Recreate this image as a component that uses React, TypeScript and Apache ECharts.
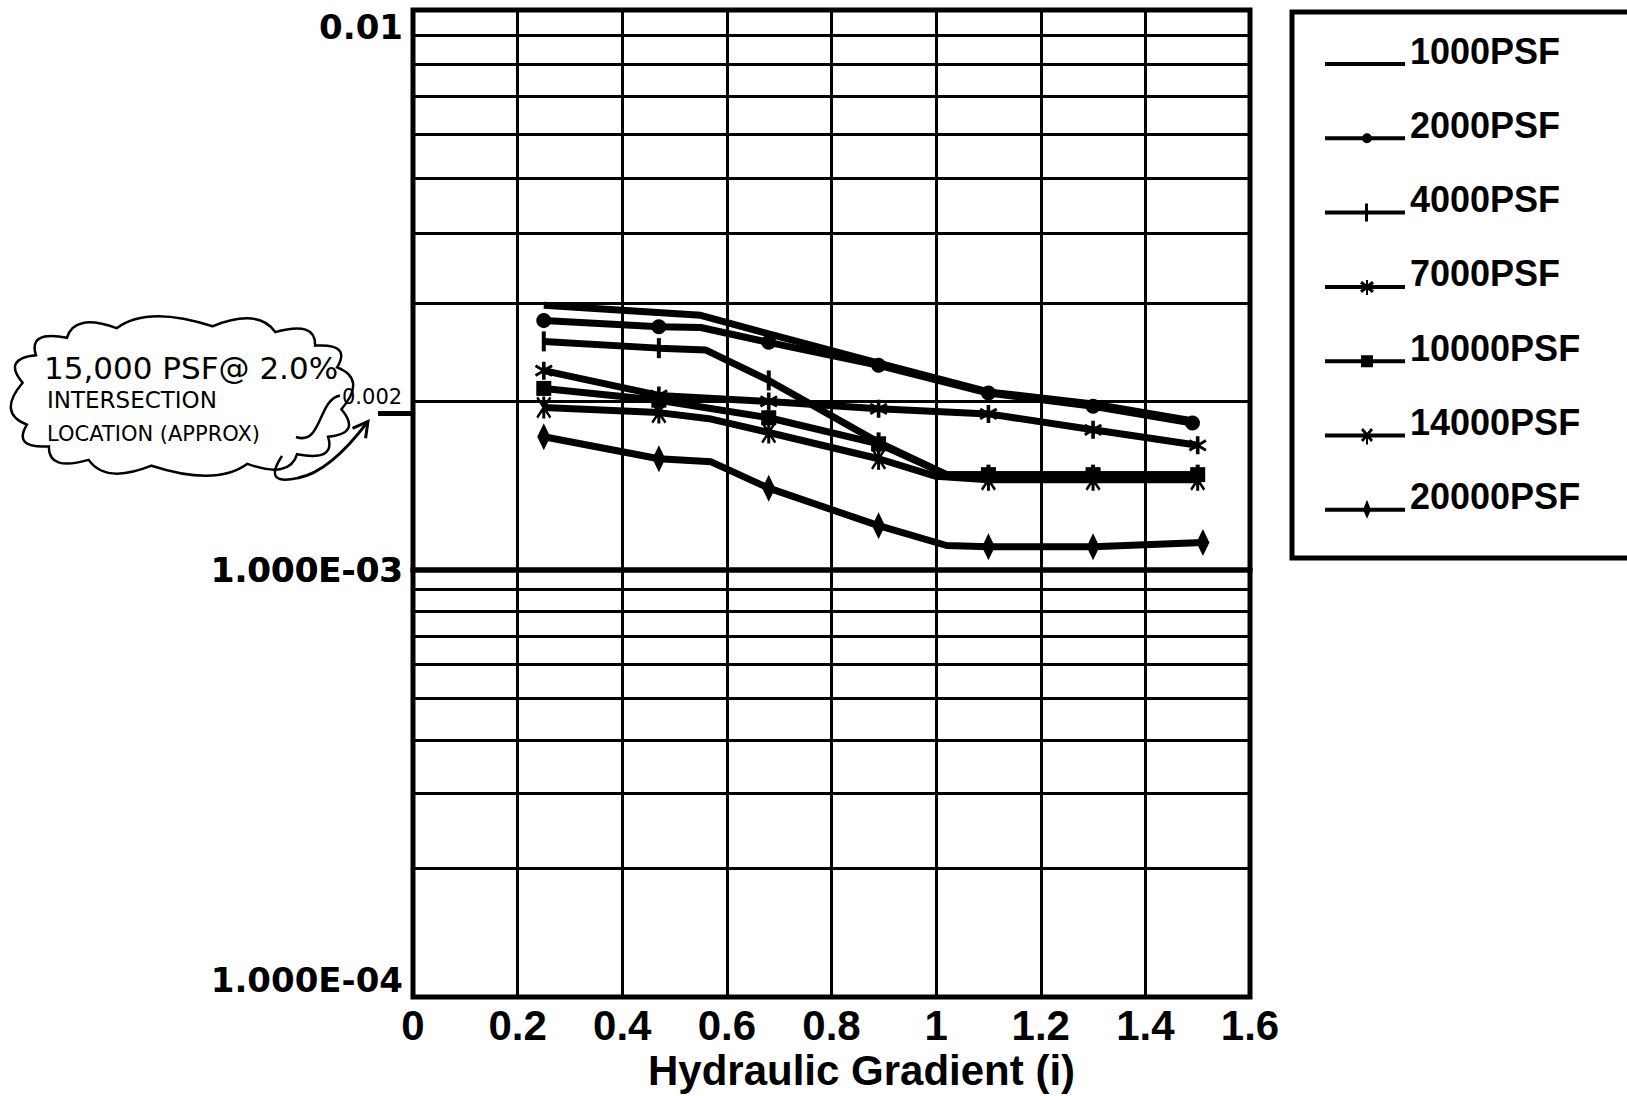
import React, { useEffect, useRef } from 'react';
import * as echarts from 'echarts';

// ---------------- DATA ----------------
const SERIES_NAMES = ['1000PSF', '2000PSF', '4000PSF', '7000PSF', '10000PSF', '14000PSF', '20000PSF'];

// [hydraulic gradient, permeability]
const PSF_1000: [number, number][] = [
  [0.25, 2.97e-3], [0.55, 2.85e-3], [0.68, 2.64e-3], [0.89, 2.34e-3], [1.1, 2.08e-3], [1.3, 1.98e-3], [1.5, 1.84e-3],
];
const PSF_2000: [number, number][] = [
  [0.25, 2.79e-3], [0.47, 2.72e-3], [0.55, 2.71e-3], [0.68, 2.55e-3], [0.89, 2.32e-3], [1.1, 2.07e-3], [1.3, 1.96e-3], [1.49, 1.83e-3],
];
const PSF_4000: [number, number][] = [
  [0.25, 2.56e-3], [0.47, 2.49e-3], [0.56, 2.47e-3], [0.68, 2.18e-3], [0.89, 1.69e-3], [1.02, 1.48e-3], [1.1, 1.48e-3], [1.3, 1.48e-3], [1.5, 1.48e-3],
];
const PSF_7000: [number, number][] = [
  [0.25, 2.27e-3], [0.47, 2.05e-3], [0.68, 2.0e-3], [0.89, 1.94e-3], [1.1, 1.9e-3], [1.3, 1.78e-3], [1.5, 1.67e-3],
];
const PSF_10000: [number, number][] = [
  [0.25, 2.11e-3], [0.47, 2.01e-3], [0.68, 1.87e-3], [0.89, 1.68e-3], [1.02, 1.48e-3], [1.1, 1.48e-3], [1.3, 1.48e-3], [1.5, 1.48e-3],
];
const PSF_14000: [number, number][] = [
  [0.25, 1.95e-3], [0.47, 1.91e-3], [0.57, 1.86e-3], [0.68, 1.76e-3], [0.89, 1.58e-3], [1.0, 1.47e-3], [1.1, 1.45e-3], [1.3, 1.45e-3], [1.5, 1.45e-3],
];
const PSF_20000: [number, number][] = [
  [0.25, 1.73e-3], [0.47, 1.58e-3], [0.57, 1.56e-3], [0.68, 1.4e-3], [0.89, 1.2e-3], [1.02, 1.106e-3], [1.1, 1.1e-3], [1.3, 1.1e-3], [1.51, 1.12e-3],
];
// vertices drawn without a marker (bends of the original curves)
const UNMARKED_X = [0.55, 0.56, 0.57, 1.0, 1.02];

const Y_MINOR_UPPER = [0.002, 0.003, 0.004, 0.005, 0.006, 0.007, 0.008, 0.009];
const Y_MINOR_LOWER = [0.0002, 0.0003, 0.0004, 0.0005, 0.0006, 0.0007, 0.0008, 0.0009];

const X_TITLE = 'Hydraulic Gradient (i)';
const NOTE_LINES = ['15,000 PSF@ 2.0%', 'INTERSECTION', 'LOCATION (APPROX)'];
const NOTE_VALUE = '0.002';

// ---------------- LAYOUT / STYLE ----------------
const W = 1627;
const H = 1096;
const G_LEFT = 413;
const G_WIDTH = 837;
const UP_TOP = 10;
const UP_H = 560;
const LO_TOP = UP_TOP + UP_H;
const LO_H = 427;

const STAR7 = 'path://M40,0L60,0L60,100L40,100Z M0,30L8,16L100,70L92,84Z M92,16L100,30L8,84L0,70Z';
const STAR14 = 'path://M40,0L60,0L60,100L40,100Z M0,8L12,0L100,92L88,100Z M88,0L100,8L12,100L0,92Z';

const MARKERS: { symbol: string; size: number | number[] }[] = [
  { symbol: 'none', size: 0 },
  { symbol: 'circle', size: 15 },
  { symbol: 'rect', size: [4, 20] },
  { symbol: STAR7, size: [18, 18] },
  { symbol: 'rect', size: 15 },
  { symbol: STAR14, size: [15, 22] },
  { symbol: 'diamond', size: [13, 27] },
];

// legend icons: 80 x 44 box, line centred at y = 35 (just under the text centre)
const BOX = 'M0,0 M80,44 ';
const LINE = 'M0,33 L80,33 L80,37 L0,37 Z ';
const LEGEND_ICONS = [
  'path://' + BOX + LINE,
  'path://' + BOX + LINE + 'M37,35 A5,5 0 1,1 47,35 A5,5 0 1,1 37,35 Z',
  'path://' + BOX + LINE + 'M40,26 L43,26 L43,44 L40,44 Z',
  'path://' + BOX + LINE + 'M41,28 L43,28 L43,43 L41,43 Z M35,31.5 L37,29 L49,38.5 L47,41 Z M47,29 L49,31.5 L37,41 L35,38.5 Z',
  'path://' + BOX + LINE + 'M36,29 L48,29 L48,41 L36,41 Z',
  'path://' + BOX + LINE + 'M36,29.5 L38,27.5 L48,39.5 L46,41.5 Z M46,27.5 L48,29.5 L38,41.5 L36,39.5 Z M41,33 L43,33 L43,44 L41,44 Z',
  'path://' + BOX + LINE + 'M42,25 L46,35 L42,44 L38,35 Z',
];

function cloudPath(cx: number, cy: number, rx: number, ry: number, n: number) {
  const pt = (a: number, k: number, kx: number) => {
    const c = Math.cos(a);
    const s = Math.sin(a);
    const ex = 0.72;
    return [
      cx + rx * kx * Math.sign(c) * Math.pow(Math.abs(c), ex),
      cy + ry * k * Math.sign(s) * Math.pow(Math.abs(s), ex),
    ];
  };
  let d = '';
  for (let i = 0; i <= n; i++) {
    const a = (i / n) * Math.PI * 2 + 0.1;
    const [px, py] = pt(a, 1, 1);
    if (i === 0) d += `M${px.toFixed(1)},${py.toFixed(1)}`;
    else {
      const m = ((i - 0.5) / n) * Math.PI * 2 + 0.1;
      const [qx, qy] = pt(m, 1.3, 1.16);
      d += ` Q${qx.toFixed(1)},${qy.toFixed(1)} ${px.toFixed(1)},${py.toFixed(1)}`;
    }
  }
  return d + ' Z';
}

let registered = false;
function registerShapes() {
  if (registered) return;
  registered = true;
  echarts.graphic.registerShape('cloud', echarts.graphic.extendPath(cloudPath(182, 396, 160, 70, 16), {}) as any);
}

function fmtY(v: number) {
  if (v >= 0.005) return '0.01';
  const [m, e] = v.toExponential(3).split('e');
  const ex = parseInt(e, 10);
  return `${m}E${ex < 0 ? '-' : '+'}${String(Math.abs(ex)).padStart(2, '0')}`;
}

const AXIS_FONT = '"Liberation Sans", Arial, sans-serif';
const Y_FONT = '"DejaVu Sans", sans-serif';
const HAND_FONT = '"DejaVu Sans", sans-serif';

function buildOption() {
  const all = [PSF_1000, PSF_2000, PSF_4000, PSF_7000, PSF_10000, PSF_14000, PSF_20000];
  const series: any[] = all.map((arr, i) => ({
    name: SERIES_NAMES[i],
    type: 'line',
    xAxisIndex: 0,
    yAxisIndex: 0,
    symbol: MARKERS[i].symbol,
    symbolSize: MARKERS[i].size,
    showSymbol: MARKERS[i].symbol !== 'none',
    lineStyle: { color: '#000', width: 7 },
    itemStyle: { color: '#000' },
    data: arr.map(([x, y]) =>
      UNMARKED_X.includes(x) ? { value: [x, y], symbol: 'none' } : { value: [x, y] }
    ),
    z: 5,
  }));
  const mlBase = {
    silent: true,
    precision: 10,
    symbol: ['none', 'none'],
    label: { show: false },
    lineStyle: { color: '#000', width: 3, type: 'solid' },
    emphasis: { disabled: true },
    z: 3,
  };
  series[0].markLine = { ...mlBase, data: Y_MINOR_UPPER.map((v) => ({ yAxis: v })) };
  series.push({
    name: 'lowerGrid',
    type: 'line',
    xAxisIndex: 1,
    yAxisIndex: 1,
    data: [],
    markLine: { ...mlBase, data: Y_MINOR_LOWER.map((v) => ({ yAxis: v })) },
  });

  const xBase = {
    type: 'value',
    min: 0,
    max: 1.6,
    interval: 0.2,
    axisLine: { show: false },
    axisTick: { show: false },
    splitLine: { show: true, lineStyle: { color: '#000', width: 3 } },
  };

  return {
    animation: false,
    backgroundColor: '#fff',
    grid: [
      { left: G_LEFT, top: UP_TOP, width: G_WIDTH, height: UP_H, show: true, borderColor: '#000', borderWidth: 5, outerBoundsMode: 'none', containLabel: false },
      { left: G_LEFT, top: LO_TOP, width: G_WIDTH, height: LO_H, show: true, borderColor: '#000', borderWidth: 5, outerBoundsMode: 'none', containLabel: false },
    ],
    xAxis: [
      { ...xBase, gridIndex: 0, axisLabel: { show: false } },
      {
        ...xBase,
        gridIndex: 1,
        axisLabel: {
          show: true,
          color: '#000',
          fontFamily: AXIS_FONT,
          fontWeight: 'bold',
          fontSize: 42,
          margin: 7,
          formatter: (v: number) => String(Math.round(v * 10) / 10),
        },
        name: X_TITLE,
        nameLocation: 'middle',
        nameGap: 52,
        nameTextStyle: {
          color: '#000',
          fontFamily: AXIS_FONT,
          fontWeight: 'bold',
          fontSize: 42,
          padding: [0, 0, 0, 60],
        },
      },
    ],
    yAxis: [
      {
        type: 'log',
        logBase: 10,
        gridIndex: 0,
        min: 0.001,
        max: 0.01,
        axisLine: { show: false },
        axisTick: { show: false },
        splitLine: { show: false },
        axisLabel: {
          color: '#000',
          fontFamily: Y_FONT,
          fontWeight: 'bold',
          fontSize: 34,
          margin: 10,
          showMinLabel: true,
          showMaxLabel: true,
          verticalAlignMaxLabel: 'top',
          formatter: fmtY,
        },
      },
      {
        type: 'log',
        logBase: 10,
        gridIndex: 1,
        min: 0.0001,
        max: 0.001,
        axisLine: { show: false },
        axisTick: { show: false },
        splitLine: { show: false },
        axisLabel: {
          color: '#000',
          fontFamily: Y_FONT,
          fontWeight: 'bold',
          fontSize: 34,
          margin: 10,
          showMinLabel: true,
          showMaxLabel: false,
          verticalAlignMinLabel: 'bottom',
          formatter: fmtY,
        },
      },
    ],
    legend: {
      data: SERIES_NAMES.map((name, i) => ({ name, icon: LEGEND_ICONS[i] })),
      orient: 'vertical',
      left: 1320,
      top: 23,
      itemWidth: 80,
      itemHeight: 44,
      itemGap: 28.3,
      selectedMode: false,
      textStyle: {
        color: '#000',
        fontFamily: AXIS_FONT,
        fontWeight: 'bold',
        fontSize: 36,
        lineHeight: 46,
      },
    },
    series,
  };
}

function buildGraphic(y2: number) {
  const tipX = 368;
  const tipY = y2 + 20;
  const fromX = 330;
  const fromY = 472;
  const ang = Math.atan2(tipY - fromY, tipX - fromX);
  const L = 17;
  const a1 = ang + Math.PI - 0.5;
  const a2 = ang + Math.PI + 0.5;
  return [
    {
      type: 'rect',
      shape: { x: 1292, y: 12, width: 420, height: 546 },
      style: { fill: 'none', stroke: '#000', lineWidth: 5 },
      z: 20,
    },
    { type: 'cloud', x: 0, y: 0, style: { fill: 'none', stroke: '#000', lineWidth: 2.5 }, z: 20 },
    {
      type: 'text', x: 44, y: 368, z: 21,
      style: { text: NOTE_LINES[0], font: `31px ${HAND_FONT}`, fill: '#000', align: 'left', verticalAlign: 'middle' },
    },
    {
      type: 'text', x: 47, y: 400, z: 21,
      style: { text: NOTE_LINES[1], font: `23px ${HAND_FONT}`, fill: '#000', align: 'left', verticalAlign: 'middle' },
    },
    {
      type: 'text', x: 47, y: 434, z: 21,
      style: { text: NOTE_LINES[2], font: `21px ${HAND_FONT}`, fill: '#000', align: 'left', verticalAlign: 'middle' },
    },
    {
      type: 'text', x: 342, y: y2 - 4, z: 21,
      style: { text: NOTE_VALUE, font: `21px ${HAND_FONT}`, fill: '#000', align: 'left', verticalAlign: 'middle' },
    },
    {
      type: 'bezierCurve', z: 21,
      shape: { x1: 296, y1: 437, cpx1: 322, cpy1: 446, cpx2: 318, cpy2: y2 - 2, x2: 340, y2: y2 - 6 },
      style: { fill: 'none', stroke: '#000', lineWidth: 2.5 },
    },
    {
      type: 'line', z: 21,
      shape: { x1: 378, y1: y2 + 12, x2: 414, y2: y2 + 12 },
      style: { stroke: '#000', lineWidth: 5 },
    },
    {
      type: 'bezierCurve', z: 21,
      shape: { x1: 282, y1: 456, cpx1: 262, cpy1: 486, x2: 298, y2: 478 },
      style: { fill: 'none', stroke: '#000', lineWidth: 2.5 },
    },
    {
      type: 'bezierCurve', z: 21,
      shape: { x1: 298, y1: 478, cpx1: fromX, cpy1: fromY, x2: tipX, y2: tipY },
      style: { fill: 'none', stroke: '#000', lineWidth: 3 },
    },
    {
      type: 'polyline', z: 21,
      shape: {
        points: [
          [tipX + L * Math.cos(a1), tipY + L * Math.sin(a1)],
          [tipX, tipY],
          [tipX + L * Math.cos(a2), tipY + L * Math.sin(a2)],
        ],
      },
      style: { fill: 'none', stroke: '#000', lineWidth: 3 },
    },
  ];
}

export default function App() {
  const ref = useRef<HTMLDivElement>(null);
  useEffect(() => {
    if (!ref.current) return;
    registerShapes();
    const chart = echarts.init(ref.current, null, { renderer: 'svg' });
    chart.setOption(buildOption() as any);
    const y2 = chart.convertToPixel({ yAxisIndex: 0 } as any, 0.002) as unknown as number;
    chart.setOption({ graphic: buildGraphic(typeof y2 === 'number' && isFinite(y2) ? y2 : 402) } as any);
    return () => chart.dispose();
  }, []);
  return (
    <div
      ref={ref}
      style={{ position: 'fixed', left: 0, top: 0, width: W, height: H, background: '#fff' }}
    />
  );
}
